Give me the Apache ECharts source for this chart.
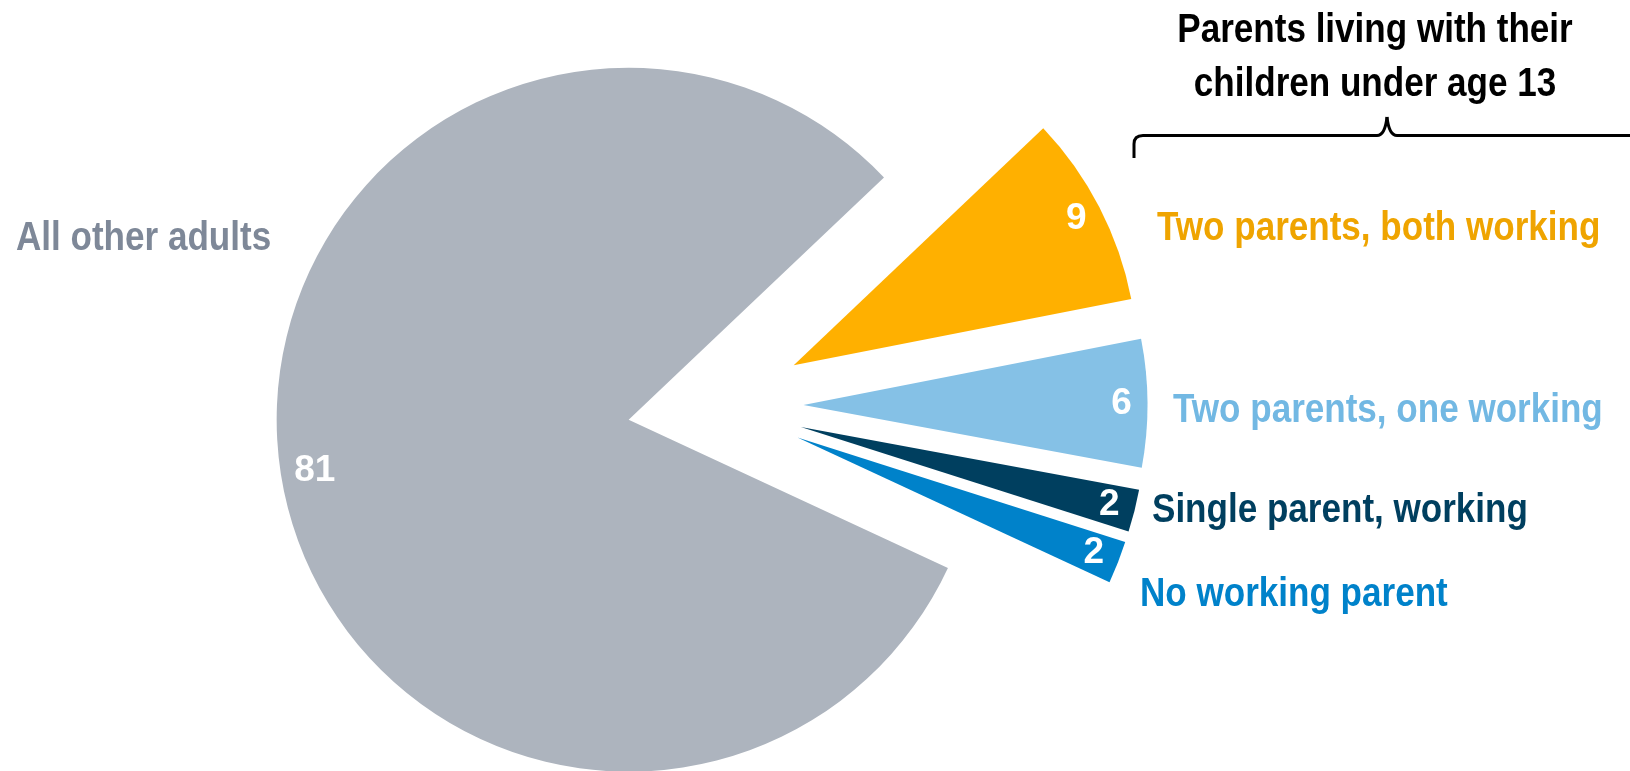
<!DOCTYPE html>
<html>
<head>
<meta charset="utf-8">
<script src="https://cdn.jsdelivr.net/npm/echarts@6/dist/echarts.min.js"></script>
<style>
  html, body { margin: 0; padding: 0; background: #ffffff; }
  #chart { width: 1630px; height: 771px; }
</style>
</head>
<body>
<div id="chart"></div>
<script>
// Share of adults (%) by household type
const categories = [
  'Two parents, both working',
  'Two parents, one working',
  'Single parent, working',
  'No working parent',
  'All other adults'
];
const shares = [9, 6, 2, 2, 81];
const sliceColors = ['#FFB000', '#85C1E6', '#003F5F', '#0082CA', '#ADB4BE'];
const nameColors = ['#EFA400', '#72B8E3', '#003F5F', '#0082CA', '#7E8898'];
const groupTitle = ['Parents living with their', 'children under age 13'];

const FONT = '"Liberation Sans", Arial, sans-serif';
const NARROW = 0.855; // horizontal squeeze for a condensed look
const CENTER = [715.5, 405.5];
const EXPLODE = 88;
const START_ANGLE = 43.5;
const OTHERS = categories.length - 1;

// Where each category name sits (left edge, vertical middle)
const namePlacement = [
  [1157, 229],
  [1173, 411],
  [1152, 511],
  [1140, 595],
  [16, 239]
];

function sliceData(isVisible) {
  return categories.map((name, i) => ({
    name: name,
    value: shares[i],
    selected: true,
    itemStyle: { color: isVisible(i) ? sliceColors[i] : 'rgba(0,0,0,0)', borderWidth: 0 }
  }));
}

const pieBase = {
  type: 'pie',
  center: CENTER,
  startAngle: START_ANGLE,
  clockwise: true,
  selectedMode: 'multiple',
  selectedOffset: EXPLODE,
  avoidLabelOverlap: false,
  silent: true,
  emphasis: { disabled: true },
  labelLine: { show: false },
  label: { show: false },
  animation: false
};

const chart = echarts.init(document.getElementById('chart'), null, { renderer: 'canvas' });

const textStyle = {
  fontFamily: FONT,
  fontWeight: 'bold',
  fontSize: 41,
  textVerticalAlign: 'middle'
};

const graphics = [];
categories.forEach((name, i) => {
  graphics.push({
    type: 'text',
    x: namePlacement[i][0],
    y: namePlacement[i][1],
    scaleX: NARROW,
    silent: true,
    style: Object.assign({ text: name, fill: nameColors[i], textAlign: 'left' }, textStyle)
  });
});
groupTitle.forEach((line, i) => {
  graphics.push({
    type: 'text',
    x: 1375,
    y: 31 + i * 54,
    scaleX: NARROW,
    silent: true,
    style: Object.assign({ text: line, fill: '#000000', textAlign: 'center' }, textStyle)
  });
});

// Curly bracket spanning the parent categories
const bracketStyle = { stroke: '#000000', lineWidth: 3, fill: null, lineCap: 'butt' };
const bracketParts = [
  { type: 'line', shape: { x1: 1134, y1: 158, x2: 1134, y2: 144 } },
  { type: 'bezierCurve', shape: { x1: 1134, y1: 144, cpx1: 1134, cpy1: 135.5, x2: 1143, y2: 135.5 } },
  { type: 'line', shape: { x1: 1143, y1: 135.5, x2: 1377, y2: 135.5 } },
  { type: 'bezierCurve', shape: { x1: 1377, y1: 135.5, cpx1: 1385, cpy1: 135.5, x2: 1387, y2: 117 } },
  { type: 'bezierCurve', shape: { x1: 1387, y1: 117, cpx1: 1389, cpy1: 135.5, x2: 1397, y2: 135.5 } },
  { type: 'line', shape: { x1: 1397, y1: 135.5, x2: 1640, y2: 135.5 } }
];
bracketParts.forEach(p => {
  p.silent = true;
  p.style = bracketStyle;
  graphics.push(p);
});

chart.setOption({
  backgroundColor: '#ffffff',
  animation: false,
  series: [
    Object.assign({}, pieBase, {
      name: 'others',
      radius: 352,
      data: sliceData(i => i === OTHERS)
    }),
    Object.assign({}, pieBase, {
      name: 'parents',
      radius: 344,
      data: sliceData(i => i !== OTHERS)
    }),
    Object.assign({}, pieBase, {
      name: 'values',
      radius: [0, 630],
      data: sliceData(() => false),
      label: {
        show: true,
        position: 'inside',
        formatter: '{c}',
        color: '#ffffff',
        fontFamily: FONT,
        fontWeight: 'bold',
        fontSize: 37
      }
    })
  ],
  graphic: graphics
});
</script>
</body>
</html>
